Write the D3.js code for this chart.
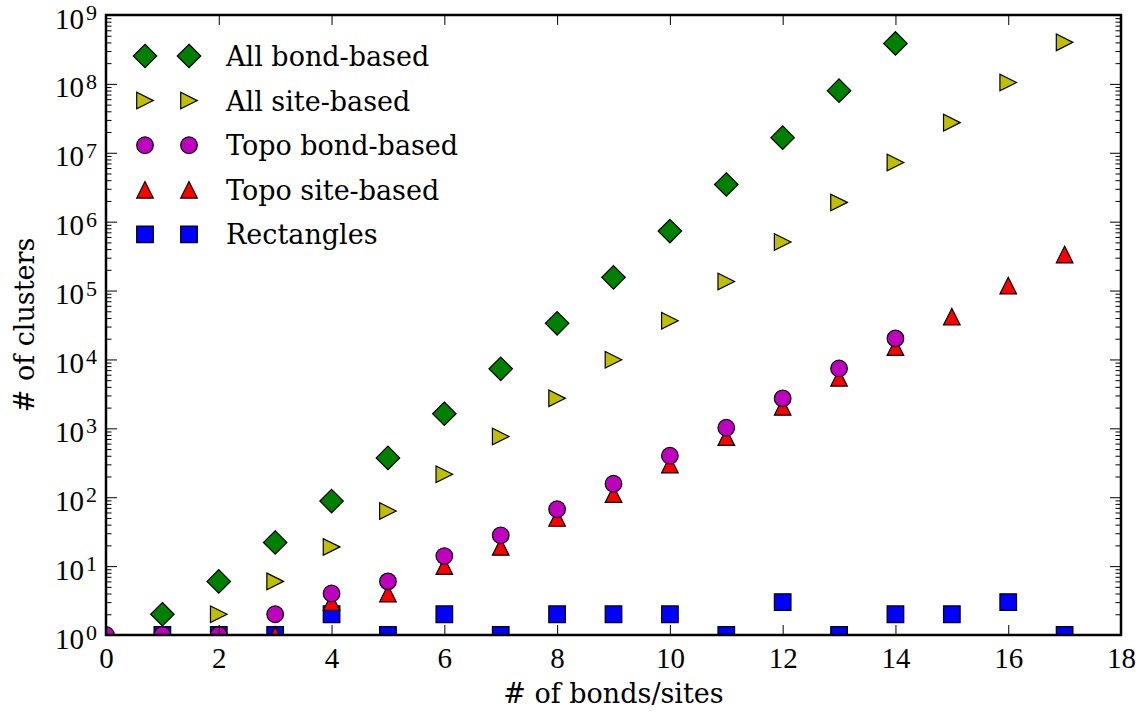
<!DOCTYPE html>
<html>
<head>
<meta charset="utf-8">
<script src="https://cdn.jsdelivr.net/npm/d3@7/dist/d3.min.js"></script>
<style>
  body { margin: 0; background: #fff; }
  svg { display: block; }
</style>
</head>
<body>
<script>
// ---- data -------------------------------------------------------------
const xTicks = [0, 2, 4, 6, 8, 10, 12, 14, 16, 18];
const yExponents = [0, 1, 2, 3, 4, 5, 6, 7, 8, 9];

const allBondN = [1, 2, 3, 4, 5, 6, 7, 8, 9, 10, 11, 12, 13, 14];
const allBond = [2, 6, 22, 88, 372, 1628, 7312, 33466, 155446, 730534, 3466170, 16576874, 79810756, 386458826];

const allSiteN = [2, 3, 4, 5, 6, 7, 8, 9, 10, 11, 12, 13, 14, 15, 16, 17];
const allSite = [2, 6, 19, 63, 216, 760, 2725, 9910, 36446, 135268, 505861, 1903890, 7204874, 27394666, 104592937, 400795844];

const topoBondN = [0, 1, 2, 3, 4, 5, 6, 7, 8, 9, 10, 11, 12, 13, 14];
const topoBond = [1, 1, 1, 2, 4, 6, 14, 28, 67, 157, 400, 1020, 2720, 7400, 20200];

const topoSiteN = [0, 1, 2, 3, 4, 5, 6, 7, 8, 9, 10, 11, 12, 13, 14, 15, 16, 17];
const topoSite = [1, 1, 1, 1, 3, 4, 10, 19, 50, 111, 298, 745, 2050, 5410, 15100, 41700, 118000, 334000];

const rectN = [1, 2, 3, 4, 5, 6, 7, 8, 9, 10, 11, 12, 13, 14, 15, 16, 17];
const rects = [1, 1, 1, 2, 1, 2, 1, 2, 2, 2, 1, 3, 1, 2, 2, 3, 1];

const seriesNames = ["All bond-based", "All site-based", "Topo bond-based", "Topo site-based", "Rectangles"];

// ---- layout -----------------------------------------------------------
const W = 1143, H = 715;
const margin = { left: 106, right: 22, top: 15, bottom: 80 };
const x0 = margin.left, x1 = W - margin.right;
const y0 = margin.top, y1 = H - margin.bottom;

const x = d3.scaleLinear().domain([0, 18]).range([x0, x1]);
const y = d3.scaleLog().domain([1, 1e9]).range([y1, y0]);

const numFont = "'Liberation Serif', 'Times New Roman', serif";
const textFont = "'DejaVu Serif', serif";

// marker outlines centred on the origin
const S = 8.3;
function markerPath(kind) {
  switch (kind) {
    case "diamond": { const h = S * Math.SQRT2; return `M0,${-h}L${h},0L0,${h}L${-h},0Z`; }
    case "tright": return `M${S},0L${-S},${-S}L${-S},${S}Z`;
    case "tup": return `M0,${-S}L${-S},${S}L${S},${S}Z`;
    case "square": return `M${-S},${-S}H${S}V${S}H${-S}Z`;
    case "circle": return `M${S},0A${S},${S} 0 1,1 ${-S},0A${S},${S} 0 1,1 ${S},0Z`;
  }
}

const series = [
  { name: seriesNames[0], n: allBondN, v: allBond, color: "#008000", kind: "diamond" },
  { name: seriesNames[1], n: allSiteN, v: allSite, color: "#bfbf00", kind: "tright" },
  { name: seriesNames[2], n: topoBondN, v: topoBond, color: "#bf00bf", kind: "circle" },
  { name: seriesNames[3], n: topoSiteN, v: topoSite, color: "#ff0000", kind: "tup" },
  { name: seriesNames[4], n: rectN, v: rects, color: "#0000ff", kind: "square" }
];

const svg = d3.select("body").append("svg")
  .attr("width", W).attr("height", H)
  .attr("viewBox", `0 0 ${W} ${H}`);

svg.append("defs").append("clipPath").attr("id", "plot-clip")
  .append("rect").attr("x", x0).attr("y", y0).attr("width", x1 - x0).attr("height", y1 - y0);

// ---- markers (later series drawn first, so earlier ones sit on top) ----
const plot = svg.append("g").attr("clip-path", "url(#plot-clip)");
series.slice().reverse().forEach(s => {
  const pts = s.n.map((n, i) => ({ n, v: s.v[i] }));
  plot.append("g").selectAll("path").data(pts).join("path")
    .attr("d", markerPath(s.kind))
    .attr("transform", d => `translate(${x(d.n)},${y(d.v)})`)
    .attr("fill", s.color)
    .attr("stroke", "#000")
    .attr("stroke-width", 1.2)
    .attr("stroke-linejoin", "miter");
});

// ---- axes ------------------------------------------------------------
const majorY = yExponents.map(e => Math.pow(10, e));
const minorY = [];
yExponents.slice(0, -1).forEach(e => { for (let m = 2; m <= 9; m++) minorY.push(m * Math.pow(10, e)); });

function styleAxis(g) {
  g.select(".domain").remove();
  g.selectAll(".tick line").attr("stroke", "#000").attr("stroke-width", 1);
}

// bottom
svg.append("g").attr("transform", `translate(0,${y1})`)
  .call(d3.axisBottom(x).tickValues(xTicks).tickSize(-10).tickPadding(12).tickFormat(d3.format("d")))
  .call(styleAxis)
  .call(g => g.selectAll("text").attr("font-family", numFont).attr("font-size", 29).attr("fill", "#000"));

// top
svg.append("g").attr("transform", `translate(0,${y0})`)
  .call(d3.axisTop(x).tickValues(xTicks).tickSize(-10).tickFormat(""))
  .call(styleAxis);

// left major with 10^k labels
svg.append("g").attr("transform", `translate(${x0},0)`)
  .call(d3.axisLeft(y).tickValues(majorY).tickSize(-11).tickPadding(9).tickFormat(d => String(Math.round(Math.log10(d)))))
  .call(styleAxis)
  .call(g => g.selectAll(".tick text").each(function () {
    const t = d3.select(this);
    const exp = t.text();
    t.text(null).attr("dy", null).attr("y", 13)
      .attr("font-family", numFont).attr("font-size", 29).attr("fill", "#000");
    t.append("tspan").text("10");
    t.append("tspan").attr("dy", -8.5).attr("dx", 2).attr("font-size", 22).text(exp);
  }));

// left minor
svg.append("g").attr("transform", `translate(${x0},0)`)
  .call(d3.axisLeft(y).tickValues(minorY).tickSize(-5.5).tickFormat(""))
  .call(styleAxis);

// right major / minor
svg.append("g").attr("transform", `translate(${x1},0)`)
  .call(d3.axisRight(y).tickValues(majorY).tickSize(-11).tickFormat(""))
  .call(styleAxis);
svg.append("g").attr("transform", `translate(${x1},0)`)
  .call(d3.axisRight(y).tickValues(minorY).tickSize(-5.5).tickFormat(""))
  .call(styleAxis);

// frame
svg.append("rect")
  .attr("x", x0).attr("y", y0).attr("width", x1 - x0).attr("height", y1 - y0)
  .attr("fill", "none").attr("stroke", "#000").attr("stroke-width", 2.5);

// axis titles
svg.append("text")
  .attr("x", (x0 + x1) / 2).attr("y", 703)
  .attr("text-anchor", "middle")
  .attr("font-family", textFont).attr("font-size", 27).attr("fill", "#000")
  .text("# of bonds/sites");

svg.append("text")
  .attr("transform", `translate(34,${(y0 + y1) / 2}) rotate(-90)`)
  .attr("text-anchor", "middle")
  .attr("font-family", textFont).attr("font-size", 27).attr("fill", "#000")
  .text("# of clusters");

// ---- legend ------------------------------------------------------------
const legendTop = 56, legendStep = 44.6;
const legend = svg.append("g");
series.forEach((s, i) => {
  const cy = legendTop + i * legendStep;
  [145, 189].forEach(cx => {
    legend.append("path")
      .attr("d", markerPath(s.kind))
      .attr("transform", `translate(${cx},${cy})`)
      .attr("fill", s.color).attr("stroke", "#000").attr("stroke-width", 1.2);
  });
  legend.append("text")
    .attr("x", 226).attr("y", cy + 10)
    .attr("font-family", textFont).attr("font-size", 27).attr("fill", "#000")
    .text(s.name);
});
</script>
</body>
</html>
